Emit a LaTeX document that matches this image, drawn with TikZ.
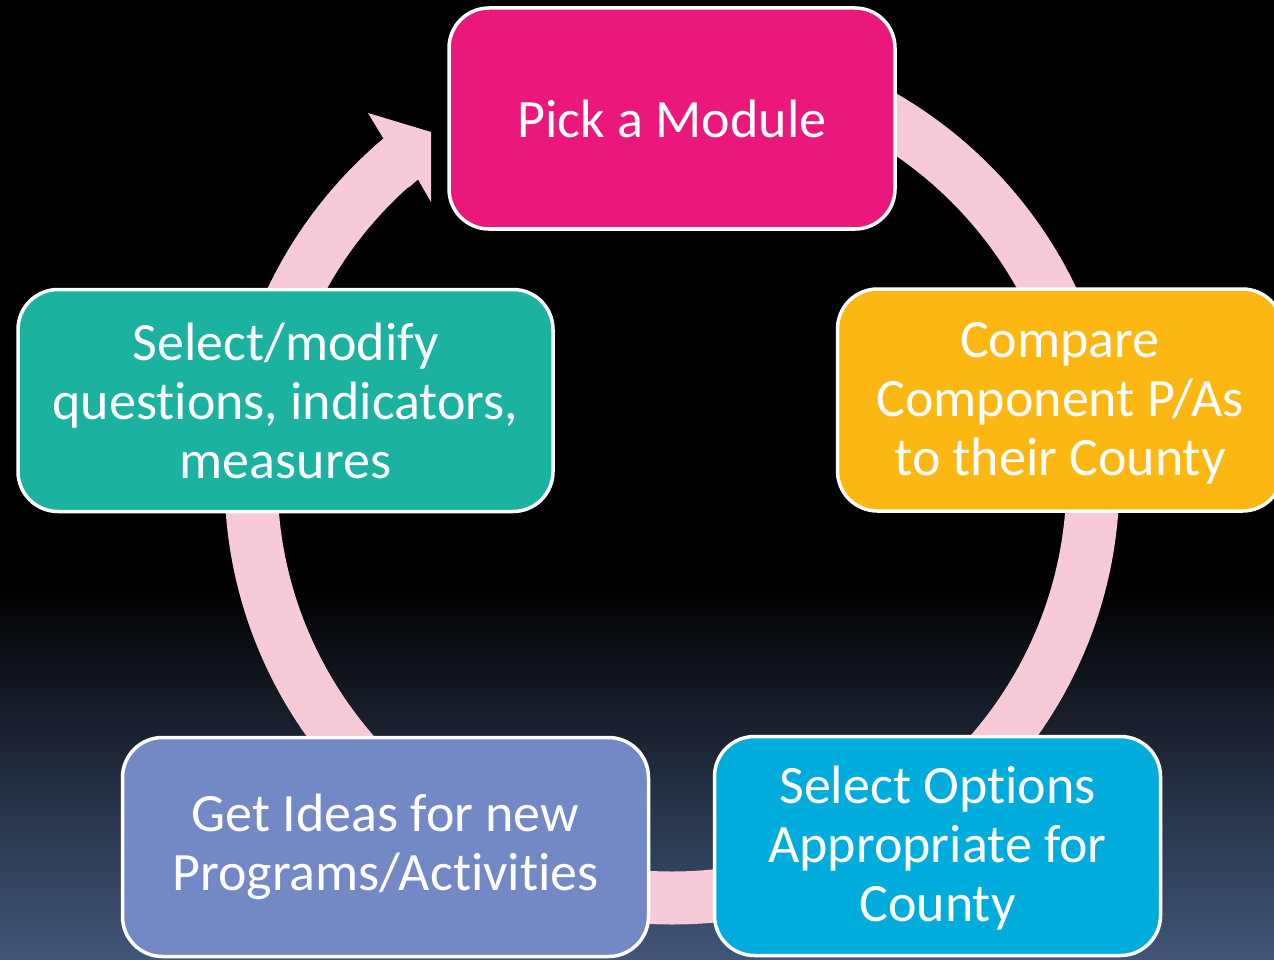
\documentclass[tikz,border=0pt]{standalone}
\usepackage{fontspec}
\setmainfont{Carlito}[Ligatures={NoCommon,NoContextual,NoRare}]
\usetikzlibrary{calc}
\definecolor{cpick}{HTML}{E9187A}
\definecolor{ccomp}{HTML}{FDB713}
\definecolor{copt}{HTML}{00ACDC}
\definecolor{cidea}{HTML}{7389C6}
\definecolor{cmod}{HTML}{1BB29F}
\definecolor{ringpink}{HTML}{F6CAD6}
\definecolor{bgbot}{HTML}{425679}
\begin{document}
\begin{tikzpicture}[x=1pt,y=-1pt,
  box/.style={draw=white, line width=3.5pt, rounded corners=40pt, text=white,
    align=center, inner sep=0pt, font=\fontsize{54}{59}\selectfont}]
\useasboundingbox (0,0) rectangle (1274,960);
\clip (0,0) rectangle (1274,960);
% background
\fill[black] (0,0) rectangle (1274,586);
\shade[top color=black, bottom color=bgbot] (0,585) rectangle (1274,960);
% cycle ring
\coordinate (c) at (672,480);
\draw[ringpink, line width=53pt] ($(c)+(-90:420)$) arc[start angle=-90, end angle=229.8, x radius=421, y radius=419];
\fill[ringpink] ($(c)+(228:447)$) -- ($(c)+(229.8:447)$) -- (368,113) -- (431,132)
  -- (431,202) -- ($(c)+(229.8:393.5)$) -- ($(c)+(228:393.5)$) -- cycle;
% boxes
\node[box, fill=cpick, minimum width=446pt, minimum height=221pt] (pick) at (672,118.5) {Pick a Module};
\node[box, fill=ccomp, minimum width=445pt, minimum height=222pt] (comp) at (1060,400) {\strut\\[-59pt]Compare\\Component P/As\\to their County};
\node[box, fill=copt, minimum width=446pt, minimum height=219pt] (opt) at (937.5,846) {\strut\\[-59pt]Select Options\\Appropriate for\\County};
\node[box, fill=cidea, minimum width=526pt, minimum height=219pt] (idea) at (385.5,847) {Get Ideas for new\\Programs/Activities};
\node[box, fill=cmod, minimum width=535pt, minimum height=222pt] (mod) at (285.5,400.5) {Select/modify\\questions, indicators,\\measures};
\end{tikzpicture}
\end{document}
